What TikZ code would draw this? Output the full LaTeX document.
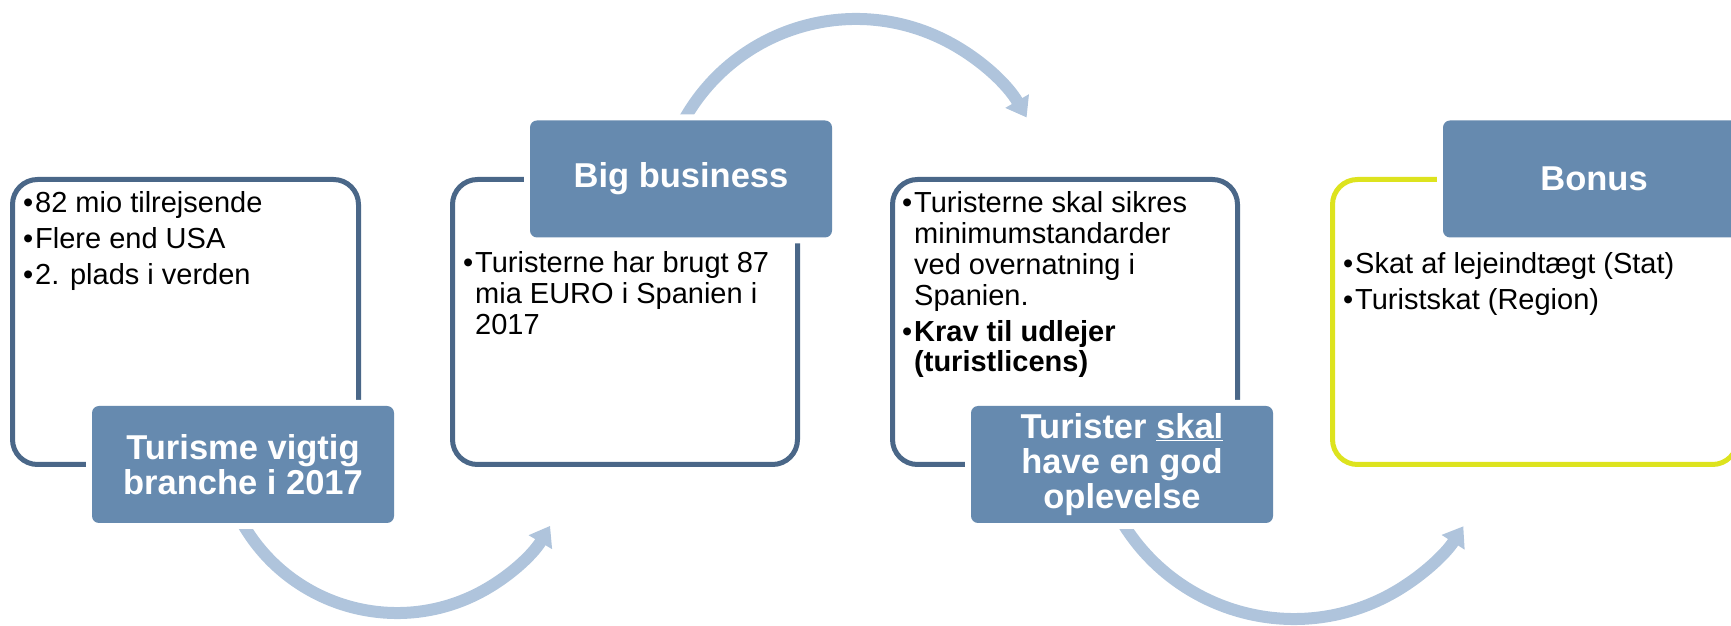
\documentclass[tikz,border=0pt]{standalone}
\usepackage{fontspec}
\setmainfont{Liberation Sans}
\usetikzlibrary{arrows.meta}
\definecolor{arrowc}{RGB}{175,196,220}
\definecolor{labelc}{RGB}{102,138,175}
\definecolor{outc}{RGB}{74,103,136}
\definecolor{yel}{RGB}{221,227,30}
\newcommand\bitem[1]{\hangindent=12pt\hangafter=1\noindent\makebox[12pt][l]{•}#1\par}
\newcommand\btext[1]{\parbox[t]{380pt}{\raggedright\setlength\parskip{5.3pt}#1}}
\begin{document}
\begin{tikzpicture}[x=1pt,y=1pt,
  outbox/.style={line width=5pt, rounded corners=25pt, inner sep=0pt, minimum height=285pt},
  labelbox/.style={fill=labelc, rounded corners=7pt, preaction={draw=white, line width=12pt},
    text=white, font=\fontsize{34.5}{35}\selectfont\bfseries, align=center,
    minimum width=302pt, minimum height=117pt, inner sep=0pt},
  flow/.style={draw=arrowc, line width=12pt, -{Triangle[width=26pt,length=19pt]}},
  body/.style={anchor=base west, inner sep=0pt, font=\fontsize{29}{30.7}\selectfont}]
\useasboundingbox (0,0) rectangle (1731,626);
\clip (0,0) rectangle (1731,626);
% arc centres
\coordinate (c1) at (397,191);
\coordinate (c2) at (856,410);
\coordinate (c3) at (1294,208);
% arrows
\draw[flow] ([shift={(207:178)}]c1) arc[start angle=207, end angle=329.3, radius=178];
\draw[flow] ([shift={(154:197)}]c2) arc[start angle=154, end angle=30, radius=197];
\draw[flow] ([shift={(209:201)}]c3) arc[start angle=209, end angle=327.4, radius=201];
% outlined boxes
\node[outbox, draw=outc, minimum width=346pt] (b1) at (185.5,304) {};
\node[outbox, draw=outc, minimum width=345pt] (b2) at (625,304) {};
\node[outbox, draw=outc, minimum width=345pt] (b3) at (1065,304) {};
\node[outbox, draw=yel, minimum width=405pt] (b4) at (1535,304) {};
% label boxes
\node[labelbox] (l1) at (243,161.5) {Turisme vigtig\\branche i 2017};
\node[labelbox] (l2) at (681,447) {Big business};
\node[labelbox] (l3) at (1122,161.5) {Turister \underline{skal}\\have en god\\oplevelse};
\node[labelbox] (l4) at (1594,447) {Bonus};
% body texts
\node[body] (t1) at (23,413) {\btext{\bitem{82 mio tilrejsende}\bitem{Flere end USA}\bitem{2. plads i verden}}};
\node[body] (t2) at (463,353) {\btext{\bitem{Turisterne har brugt 87\newline mia EURO i Spanien i\newline 2017}}};
\node[body] (t3) at (902,413) {\btext{\bitem{Turisterne skal sikres\newline minimumstandarder\newline ved overnatning i\newline Spanien.}\bitem{\bfseries Krav til udlejer\newline (turistlicens)}}};
\node[body] (t4) at (1343,352) {\btext{\bitem{Skat af lejeindtægt (Stat)}\bitem{Turistskat (Region)}}};
\end{tikzpicture}
\end{document}
